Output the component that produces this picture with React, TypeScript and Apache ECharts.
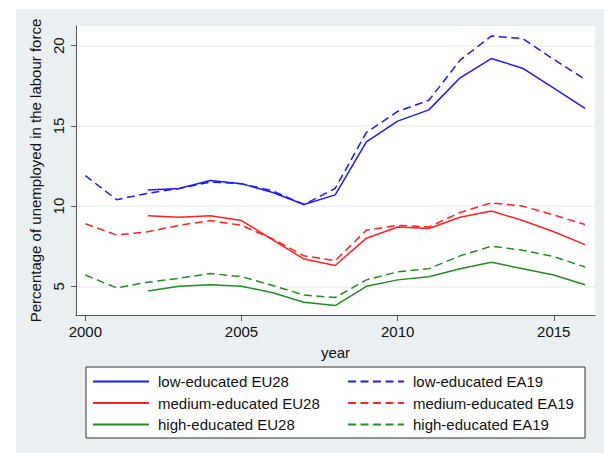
import { useEffect, useRef } from "react";
import * as echarts from "echarts";

// years covered by each aggregate
const yearsEA19 = [2000, 2001, 2002, 2003, 2004, 2005, 2006, 2007, 2008, 2009, 2010, 2011, 2012, 2013, 2014, 2015, 2016];
const yearsEU28 = [2002, 2003, 2004, 2005, 2006, 2007, 2008, 2009, 2010, 2011, 2012, 2013, 2014, 2015, 2016];

// unemployment rates (%)
const lowEU28 = [11.0, 11.1, 11.6, 11.4, 10.85, 10.1, 10.7, 14.0, 15.3, 16.0, 18.0, 19.2, 18.6, 17.35, 16.1];
const mediumEU28 = [9.4, 9.3, 9.4, 9.1, 7.9, 6.7, 6.3, 8.0, 8.7, 8.6, 9.3, 9.7, 9.1, 8.4, 7.6];
const highEU28 = [4.7, 5.0, 5.1, 5.0, 4.6, 4.0, 3.8, 5.0, 5.4, 5.6, 6.1, 6.5, 6.1, 5.7, 5.1];

const lowEA19 = [11.9, 10.4, 10.8, 11.1, 11.5, 11.4, 10.95, 10.1, 11.1, 14.6, 15.9, 16.6, 19.1, 20.6, 20.45, 19.15, 17.9];
const mediumEA19 = [8.9, 8.2, 8.4, 8.8, 9.1, 8.8, 7.95, 6.9, 6.6, 8.5, 8.8, 8.7, 9.6, 10.2, 10.0, 9.45, 8.85];
const highEA19 = [5.7, 4.9, 5.25, 5.5, 5.8, 5.6, 5.05, 4.45, 4.3, 5.4, 5.9, 6.1, 6.9, 7.5, 7.25, 6.85, 6.2];

const xTicks = [2000, 2005, 2010, 2015];
const yTicks = [5, 10, 15, 20];

const FONT = "'Liberation Sans', Arial, sans-serif";
const BLUE = "#1a1aff";
const RED = "#ff2020";
const GREEN = "#1f8f1f";
const DASH = [8, 4.5];

const pairs = (xs: number[], ys: number[]) => xs.map((x, i) => [x, ys[i]]);

export default function App() {
  const chartRef = useRef<HTMLDivElement>(null);

  useEffect(() => {
    if (!chartRef.current) return;
    const chart = echarts.init(chartRef.current, undefined, { renderer: "svg" });

    const line = (name: string, data: number[][], color: string, dashed: boolean) => ({
      name,
      type: "line" as const,
      data,
      symbol: "none",
      showSymbol: false,
      itemStyle: { color },
      lineStyle: { color, width: 1.5, type: dashed ? DASH : "solid" },
    });

    const legendCommon = {
      orient: "vertical" as const,
      top: 374,
      padding: 0,
      itemWidth: 56,
      itemHeight: 14,
      itemGap: 6.5,
      itemStyle: { opacity: 0 },
      textStyle: { fontSize: 15, fontFamily: FONT, color: "#111", lineHeight: 14, padding: [0, 0, 0, 4] },
    };

    const option: echarts.EChartsOption = {
      animation: false,
      backgroundColor: "#ffffff",
      textStyle: { fontFamily: FONT },
      graphic: [
        {
          type: "rect",
          z: -10,
          shape: { x: 16, y: 9, width: 588, height: 444 },
          style: { fill: "#eaf0f2" },
          silent: true,
        },
        {
          type: "rect",
          z: -5,
          shape: { x: 86, y: 367, width: 499, height: 71 },
          style: { fill: "#ffffff", stroke: "#333333", lineWidth: 1 },
          silent: true,
        },
        {
          // title sits above the visible frame, only its descenders show
          type: "text",
          x: 84,
          y: -12,
          style: {
            text: "Unemployment",
            fontSize: 20,
            fontWeight: "bold",
            fontStyle: "italic",
            fontFamily: FONT,
            fill: "#2a2a9a",
            verticalAlign: "middle",
          },
          silent: true,
        },
      ],
      grid: {
        left: 76,
        top: 26,
        right: 9,
        bottom: 138,
        show: true,
        backgroundColor: "#ffffff",
        borderWidth: 0,
      },
      xAxis: {
        type: "value",
        min: 1999.7,
        max: 2016.32,
        name: "year",
        nameLocation: "middle",
        nameGap: 30,
        nameTextStyle: { fontSize: 15, color: "#111", fontFamily: FONT },
        axisLine: { show: true, lineStyle: { color: "#555", width: 1 } },
        axisTick: { show: true, length: 6, customValues: xTicks, lineStyle: { color: "#555" } },
        axisLabel: {
          customValues: xTicks,
          formatter: (v: number) => String(v),
          fontSize: 15,
          color: "#111",
          margin: 9,
          fontFamily: FONT,
        },
        splitLine: { show: false },
      },
      yAxis: {
        type: "value",
        min: 3.21,
        max: 21.23,
        name: "Percentage of unemployed in the labour force",
        nameLocation: "middle",
        nameGap: 26,
        nameTextStyle: { fontSize: 15, color: "#111", fontFamily: FONT },
        axisLine: { show: true, lineStyle: { color: "#555", width: 1 } },
        axisTick: { show: true, length: 5, customValues: yTicks, lineStyle: { color: "#555" } },
        axisLabel: { customValues: yTicks, rotate: 90, fontSize: 15, color: "#111", margin: 10, fontFamily: FONT },
        splitLine: { show: true, lineStyle: { color: "#eaf0f2", width: 1.5 } },
      },
      legend: [
        {
          ...legendCommon,
          left: 92,
          data: ["low-educated EU28", "medium-educated EU28", "high-educated EU28"],
        },
        {
          ...legendCommon,
          left: 347,
          data: ["low-educated EA19", "medium-educated EA19", "high-educated EA19"],
        },
      ],
      series: [
        line("low-educated EU28", pairs(yearsEU28, lowEU28), BLUE, false),
        line("low-educated EA19", pairs(yearsEA19, lowEA19), BLUE, true),
        line("medium-educated EU28", pairs(yearsEU28, mediumEU28), RED, false),
        line("medium-educated EA19", pairs(yearsEA19, mediumEA19), RED, true),
        line("high-educated EU28", pairs(yearsEU28, highEU28), GREEN, false),
        line("high-educated EA19", pairs(yearsEA19, highEA19), GREEN, true),
      ],
    };

    chart.setOption(option);

    return () => {
      chart.dispose();
    };
  }, []);

  return (
    <div
      ref={chartRef}
      style={{ position: "fixed", left: 0, top: 0, width: "604px", height: "453px" }}
    />
  );
}
